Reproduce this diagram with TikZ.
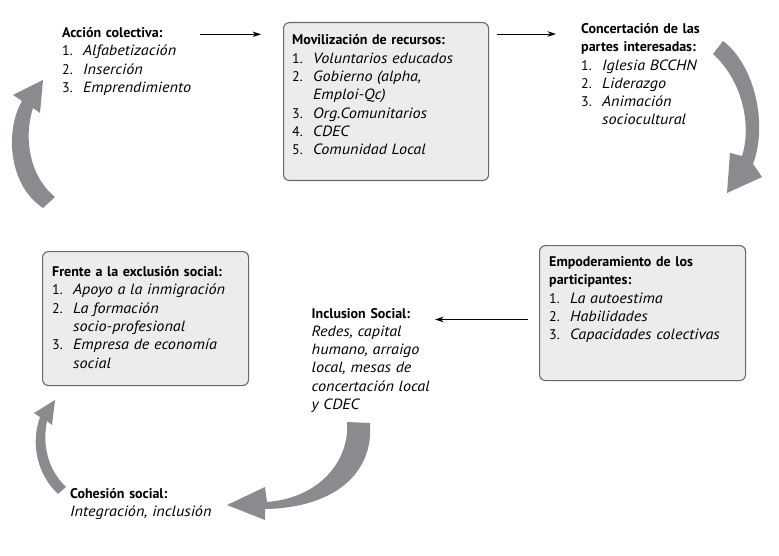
\documentclass[tikz,border=0pt]{standalone}
\usepackage{fontspec}
\setmainfont{PT Sans}[ItalicFeatures={Scale=1.06, FakeStretch=1.09}]
\usetikzlibrary{arrows.meta}
\definecolor{arrowgrey}{RGB}{138,139,143}
\definecolor{boxfill}{RGB}{236,236,236}
\definecolor{boxline}{RGB}{105,105,105}
\newcommand{\itm}[2]{\makebox[21pt][l]{#1}\textit{#2}}
\newcommand{\cont}[1]{\hspace*{21pt}\textit{#1}}
\begin{document}
\begin{tikzpicture}[x=1pt,y=-1pt,
  txt/.style={anchor=base west, inner sep=0pt, text width=200pt, align=left,
    font=\fontsize{14}{18.3}\selectfont},
  panel/.style={draw=boxline, line width=1.1pt, fill=boxfill, rounded corners=6pt,
    anchor=north west, inner sep=0pt},
  thinarrow/.style={-{Stealth[length=8.5pt,width=5.5pt]}, line width=0.9pt, black},
  bigarrow/.style={fill=arrowgrey, draw=none}]
\useasboundingbox (0,0) rectangle (779,556);

% panels
\node[panel, minimum width=205pt, minimum height=158pt] (b1) at (283,22) {};
\node[panel, minimum width=206pt, minimum height=135pt] (b2) at (539,245) {};
\node[panel, minimum width=206pt, minimum height=134pt] (b3) at (42,251) {};

% texts
\node[txt] (acc) at (62,37.5) {\textbf{Acción colectiva:}\\
  \itm{1.}{Alfabetización}\\ \itm{2.}{Inserción}\\ \itm{3.}{Emprendimiento}};
\node[txt] (mov) at (292,45) {\textbf{Movilización de recursos:}\\
  \itm{1.}{Voluntarios educados}\\ \itm{2.}{Gobierno (alpha,}\\ \cont{Emploi-Qc)}\\
  \itm{3.}{Org.Comunitarios}\\ \itm{4.}{CDEC}\\ \itm{5.}{Comunidad Local}};
\node[txt] (conc) at (581,33.5) {\textbf{Concertación de las}\\ \textbf{partes interesadas:}\\
  \itm{1.}{Iglesia BCCHN}\\ \itm{2.}{Liderazgo}\\ \itm{3.}{Animación}\\ \cont{sociocultural}};
\node[txt] (emp) at (549,266.5) {\textbf{Empoderamiento de los}\\ \textbf{participantes:}\\
  \itm{1.}{La autoestima}\\ \itm{2.}{Habilidades}\\ \itm{3.}{Capacidades colectivas}};
\node[txt] (incl) at (311.5,318) {\textbf{Inclusion Social:}\\ \textit{Redes, capital}\\
  \textit{humano, arraigo}\\ \textit{local, mesas de}\\ \textit{concertación local}\\ \textit{y CDEC}};
\node[txt] (fren) at (52,276.5) {\textbf{Frente a la exclusión social:}\\
  \itm{1.}{Apoyo a la inmigración}\\ \itm{2.}{La formación}\\ \cont{socio-profesional}\\
  \itm{3.}{Empresa de economía}\\ \cont{social}};
\node[txt] (coh) at (70,498) {\textbf{Cohesión social:}\\ \textit{Integración, inclusión}};

% thin connectors
\coordinate (t1s) at (200,34.3); \coordinate (t1e) at (261,34.3);
\coordinate (t2s) at (497,34); \coordinate (t2e) at (556,34);
\coordinate (t3s) at (528,319.5); \coordinate (t3e) at (435,319.5);
\draw[thinarrow] (t1s) -- (t1e);
\draw[thinarrow] (t2s) -- (t2e);
\draw[thinarrow] (t3s) -- (t3e);

% big grey curved arrows
% right: concertacion -> empoderamiento
\fill[bigarrow] (713,54) -- (723,41) .. controls (755,65) and (768,125) .. (753,164)
  -- (762,177) -- (727,193) -- (730,153) -- (742,156)
  .. controls (752,125) and (742,80) .. (713,54) -- cycle;
% bottom: inclusion -> cohesion
\fill[bigarrow] (347,422) -- (370,423) .. controls (374,475) and (332,508) .. (265,509)
  -- (265,520) -- (227,505) -- (265,487) -- (267,502)
  .. controls (320,498) and (350,460) .. (347,422) -- cycle;
% bottom-left: cohesion -> frente
\fill[bigarrow] (58,494) .. controls (38,475) and (30,445) .. (40,417)
  -- (34,413) -- (55,400) -- (52,425) -- (47,421)
  .. controls (42,445) and (48,470) .. (66,487) -- cycle;
% left: frente -> accion
\fill[bigarrow] (43,208) .. controls (8,185) and (5,130) .. (22,101)
  -- (13,95) -- (43,80) -- (40,113) -- (33,108)
  .. controls (24,135) and (28,175) .. (55,197) -- cycle;
\end{tikzpicture}
\end{document}
